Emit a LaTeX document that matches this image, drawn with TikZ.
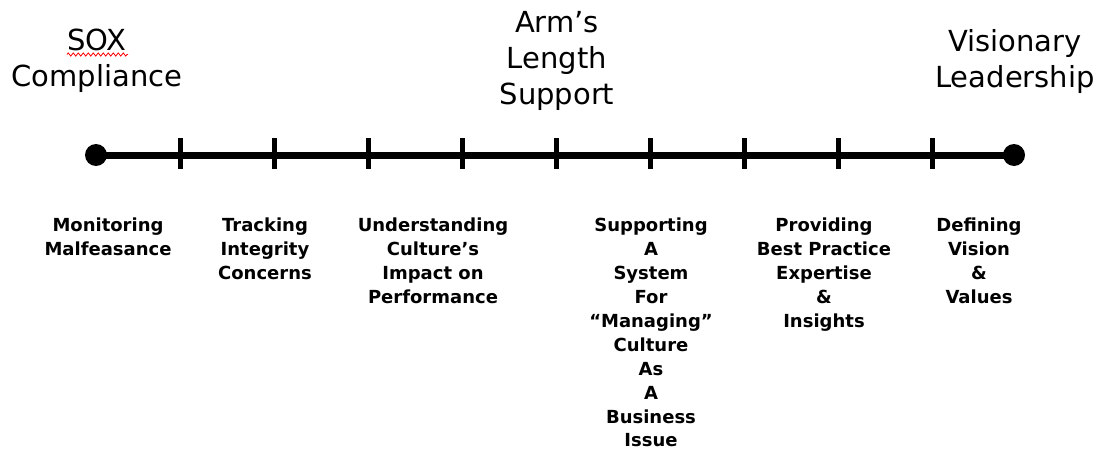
\documentclass[tikz,border=0pt]{standalone}
\usepackage{fontspec}
\setmainfont{DejaVu Sans}
\usetikzlibrary{decorations.pathmorphing}
\begin{document}
\begin{tikzpicture}[x=1pt,y=-1pt,
  toplabel/.style={anchor=north,inner sep=0pt,align=center,
    font=\fontsize{29}{36}\selectfont},
  botlabel/.style={anchor=north,inner sep=0pt,align=center,
    font=\fontsize{18}{23.9}\selectfont\bfseries},
  endpoint/.style={circle,fill=black,minimum size=22pt,inner sep=0pt},
  tickmark/.style={line width=5pt},
  axis/.style={line width=7pt}]
\useasboundingbox (0,0) rectangle (1103,455);
% axis
\node[endpoint] (L) at (96,155) {};
\node[endpoint] (R) at (1014,155) {};
\draw[axis] (L.center) -- (R.center);
\foreach \i in {0,...,8}{
  \coordinate (t\i a) at (180+94*\i,138);
  \coordinate (t\i b) at (180+94*\i,169);
  \draw[tickmark] (t\i a) -- (t\i b);
}
% top labels
\node[toplabel] (sox) at (97,29) {SOX\\Compliance};
\node[toplabel] (arm) at (557,11) {Arm’s\\Length\\Support};
\node[toplabel] (vis) at (1015,29) {Visionary\\Leadership};
% spell-check squiggle
\coordinate (sq1) at (67,54.5);
\coordinate (sq2) at (128,54.5);
\draw[red,line width=0.8pt,decorate,decoration={zigzag,amplitude=1.6pt,segment length=5pt}] (sq1) -- (sq2);
% bottom labels
\node[botlabel] (b1) at (108,218) {Monitoring\\Malfeasance};
\node[botlabel] (b2) at (265,218) {Tracking\\Integrity\\Concerns};
\node[botlabel] (b3) at (433,218) {Understanding\\Culture’s\\Impact on\\Performance};
\node[botlabel] (b4) at (651,218) {Supporting\\A\\System\\For\\“Managing”\\Culture\\As\\A\\Business\\Issue};
\node[botlabel] (b5) at (824,218) {Providing\\Best Practice\\Expertise\\\&\\Insights};
\node[botlabel] (b6) at (979,218) {Defining\\Vision\\\&\\Values};
\end{tikzpicture}
\end{document}
